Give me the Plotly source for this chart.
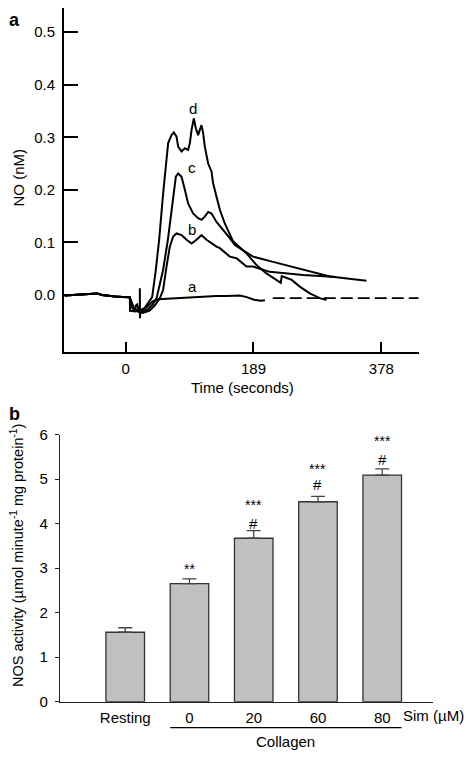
import plotly.graph_objects as go

# ---------------- Panel a data: NO (nM) vs time (s) ----------------
BASE_T = [-90, -80, -70, -60, -50, -42, -35, -25, -15, -5, 4]
BASE_NO = [-0.001, 0.000, 0.001, 0.002, 0.003, 0.003, 0.000, -0.002, -0.003, -0.004, -0.004]

A_T = [6.3, 6.6, 14, 15, 17, 19, 21, 21.1, 21.2, 22, 25, 30, 35, 40, 48, 60, 75, 90,
       110, 134, 150, 169, 179, 190, 200, 206]
A_NO = [-0.005, -0.030, -0.031, -0.020, -0.018, -0.027, -0.028, 0.013, -0.044, -0.030,
        -0.028, -0.024, -0.018, -0.012, -0.008, -0.007, -0.006, -0.005, -0.003, -0.002,
        -0.002, -0.001, -0.004, -0.009, -0.011, -0.010]

B_T = [6, 14, 25, 35, 43, 50.7, 55.5, 60.5, 65.4, 70.3, 75.3, 82.7, 90.1, 97.5, 104.8,
       112.2, 119.6, 134.4, 139.3, 154, 163.9, 178.7, 188.4, 213.1, 262.3, 311.6]
B_NO = [-0.004, -0.030, -0.034, -0.030, -0.020, -0.006, 0.010, 0.054, 0.092, 0.111,
        0.117, 0.114, 0.105, 0.098, 0.105, 0.114, 0.105, 0.092, 0.089, 0.073, 0.070,
        0.054, 0.054, 0.044, 0.038, 0.034]

C_T = [6, 12, 22, 32, 40, 45.8, 55.5, 62.5, 67.9, 70.3, 74.3, 77.7, 82.7, 87.6, 92.4,
       99.8, 107.2, 112.2, 117.1, 122, 127, 134.4, 144.1, 154, 161.4, 176.2, 188.4, 218,
       262.3, 301.9, 355.9]
C_NO = [-0.004, -0.028, -0.032, -0.028, -0.018, -0.006, 0.048, 0.105, 0.162, 0.193,
        0.225, 0.231, 0.225, 0.200, 0.174, 0.155, 0.146, 0.143, 0.149, 0.158, 0.155,
        0.139, 0.124, 0.108, 0.095, 0.082, 0.073, 0.063, 0.048, 0.035, 0.027]

D_T = [6, 10, 20, 28, 34, 39.3, 44.7, 49.6, 55.5, 60.5, 62.9, 67.9, 71.3, 75.3, 77.7,
       82.7, 87.6, 92.4, 95, 97.5, 100.9, 103.8, 107.2, 109.7, 112.2, 114.6, 117.1, 122,
       127, 129.4, 134.4, 139.3, 146.6, 154, 158.9, 178.7, 193.5, 208.2, 220.5, 229.3,
       230.8, 245.1, 257.4, 272.2, 287, 296.8]
D_NO = [-0.004, -0.025, -0.030, -0.025, -0.015, -0.004, 0.048, 0.105, 0.193, 0.257,
        0.289, 0.304, 0.309, 0.301, 0.282, 0.273, 0.279, 0.276, 0.289, 0.314, 0.336,
        0.317, 0.304, 0.314, 0.323, 0.308, 0.282, 0.250, 0.235, 0.212, 0.187, 0.162,
        0.136, 0.117, 0.102, 0.079, 0.057, 0.041, 0.030, 0.023, 0.036, 0.029, 0.016,
        0.003, -0.006, -0.0095]

DASH_T = [217.5, 433]
DASH_NO = [-0.006, -0.006]

CURVE_LABELS = ["a", "b", "c", "d"]
LABEL_T = [98.9, 97.5, 97.5, 98.9]
LABEL_NO = [0.016, 0.125, 0.242, 0.355]

A_XTICKS = [0, 189, 378]
A_YTICKS = [0.0, 0.1, 0.2, 0.3, 0.4, 0.5]

# ---------------- Panel b data: NOS activity ----------------
CATEGORIES = ["Resting", "0", "20", "60", "80"]
NOS_MEAN = [1.56, 2.65, 3.67, 4.49, 5.09]
NOS_SEM = [0.10, 0.11, 0.17, 0.12, 0.14]
STARS = ["", "**", "***", "***", "***"]
STAR_Y = [None, 3.08, 4.50, 5.31, 5.94]
HASH = ["", "", "#", "#", "#"]
HASH_Y = [None, None, 4.02, 4.90, 5.46]
B_YTICKS = [0, 1, 2, 3, 4, 5, 6]

FONT = "Liberation Sans, Arial, sans-serif"
OFF = 8                     # page body margin of the browser (each side)
W, H = 472 - 2 * OFF, 758 - 2 * OFF

fig = go.Figure()

line_style = dict(color="black", width=2)
for t, v in [(A_T, A_NO), (B_T, B_NO), (C_T, C_NO), (D_T, D_NO)]:
    fig.add_trace(go.Scatter(x=BASE_T + t, y=BASE_NO + v, mode="lines", line=line_style,
                             xaxis="x", yaxis="y", showlegend=False, hoverinfo="skip"))
fig.add_trace(go.Scatter(x=DASH_T, y=DASH_NO, mode="lines",
                         line=dict(color="black", width=1.6, dash="12px,5px"),
                         xaxis="x", yaxis="y", showlegend=False, hoverinfo="skip"))

idx = list(range(len(CATEGORIES)))
fig.add_trace(go.Bar(x=idx, y=NOS_MEAN, xaxis="x2", yaxis="y2",
                     marker=dict(color="#c0c0c0", line=dict(color="#333333", width=1.3)),
                     width=0.6,
                     error_y=dict(type="data", array=NOS_SEM, arrayminus=[0] * 5,
                                  symmetric=False, color="#444444", thickness=1.3, width=7),
                     showlegend=False, hoverinfo="skip"))

annotations = []
for lab, t, v in zip(CURVE_LABELS, LABEL_T, LABEL_NO):
    annotations.append(dict(text=lab, x=t, y=v, xref="x", yref="y", showarrow=False,
                            xanchor="center", yanchor="middle",
                            font=dict(size=15, color="black", family=FONT)))
for i, s, sy, h, hy in zip(idx, STARS, STAR_Y, HASH, HASH_Y):
    if s:
        annotations.append(dict(text=s, x=i, y=sy, xref="x2", yref="y2", showarrow=False,
                                xanchor="center", yanchor="middle", yshift=-4,
                                font=dict(size=14, color="black", family=FONT)))
    if h:
        annotations.append(dict(text=h, x=i, y=hy, xref="x2", yref="y2", showarrow=False,
                                xanchor="center", yanchor="middle", yshift=-1,
                                font=dict(size=15, color="black", family=FONT)))

def px(x):
    return min(max((x - OFF) / W, 0), 1)

def py(y):
    return min(max(1 - (y - OFF) / H, 0), 1)

def note(text, x, y, size=15, angle=0, xref="paper"):
    return dict(text=text, x=x, y=y, xref=xref, yref="paper", showarrow=False,
                xanchor="center", yanchor="middle", textangle=angle,
                font=dict(size=size, color="black", family=FONT))

annotations += [
    note("<b>a</b>", px(14), py(20), size=18),
    note("<b>b</b>", px(14), py(414), size=18),
    note("NO (nM)", px(17.5), py(178), angle=-90),
    note("Time (seconds)", px(242), py(387)),
    note("NOS activity (µmol minute<sup>-1</sup> mg protein<sup>-1</sup>)", px(17), py(556),
         size=14.5, angle=-90),
    note("Sim (µM)", px(433), py(715)),
    note("Collagen", 2.5, py(741), xref="x2"),
]

shapes = [dict(type="line", x0=0.7, x1=4.3, y0=py(727.7), y1=py(727.7), xref="x2",
               yref="paper", line=dict(color="black", width=1.2))]

# panel a: y axis top clipped at page top (pixel OFF); keep same value scale
A_TOP_PIX = max(3, OFF)
A_YMAX = 0.5553 - (A_TOP_PIX - 3) / 525.8

fig.update_layout(
    width=W, height=H, margin=dict(l=0, r=0, t=0, b=0, pad=0, autoexpand=False),
    paper_bgcolor="white", plot_bgcolor="white",
    font=dict(family=FONT, size=15, color="black"),
    bargap=0.4,
    xaxis=dict(domain=[px(64), px(419)], range=[-91, 433.6], anchor="y",
               tickvals=A_XTICKS, ticktext=[str(v) for v in A_XTICKS],
               ticks="inside", ticklen=10, tickwidth=2, tickcolor="black",
               showline=True, linecolor="black", linewidth=2, showgrid=False,
               zeroline=False, ticklabelstandoff=2, tickfont=dict(size=15)),
    yaxis=dict(domain=[py(352), py(A_TOP_PIX)], range=[-0.1084, A_YMAX], anchor="x",
               tickvals=A_YTICKS, ticktext=[f"{v:.1f}" for v in A_YTICKS],
               ticks="inside", ticklen=14, tickwidth=2, tickcolor="black",
               showline=True, linecolor="black", linewidth=2, showgrid=False,
               zeroline=False, ticklabelstandoff=4, tickfont=dict(size=15)),
    xaxis2=dict(domain=[px(60), px(433)], range=[-1.015, 4.79], anchor="y2",
                tickvals=idx, ticktext=CATEGORIES, ticks="", showline=True,
                linecolor="#222222", linewidth=1.3, showgrid=False, zeroline=False,
                ticklabelstandoff=2, tickfont=dict(size=15)),
    yaxis2=dict(domain=[py(701.7), py(434.5)], range=[0, 6], anchor="x2",
                tickvals=B_YTICKS, ticks="outside", ticklen=4, tickwidth=1.3,
                tickcolor="#222222", showline=True, linecolor="#222222", linewidth=1.3,
                showgrid=False, zeroline=False, ticklabelstandoff=4,
                tickfont=dict(size=15)),
    annotations=annotations,
    shapes=shapes,
)

fig.write_html("out.html")
